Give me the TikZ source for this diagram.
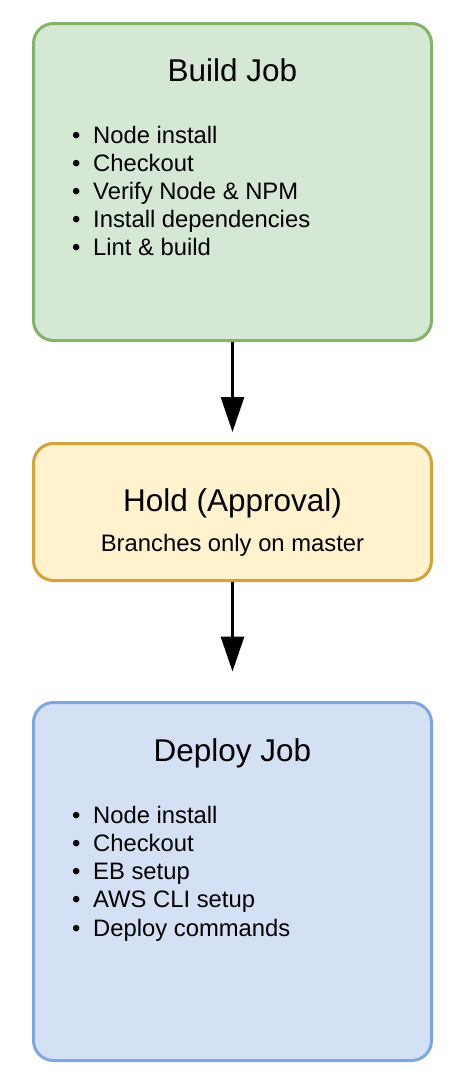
\documentclass[tikz,border=0pt]{standalone}
\usepackage{fontspec}
\setmainfont{Liberation Sans}
\usetikzlibrary{arrows.meta}
\definecolor{gfill}{HTML}{D5E8D4}
\definecolor{gline}{HTML}{82B366}
\definecolor{yfill}{HTML}{FFF2CC}
\definecolor{yline}{HTML}{D6A03A}
\definecolor{bfill}{HTML}{D4E1F5}
\definecolor{bline}{HTML}{7EA6E0}
\tikzset{
  jobbox/.style={rectangle, rounded corners=20pt, line width=3pt, minimum width=398pt, inner sep=0pt},
  titletext/.style={anchor=base, inner sep=0pt, font=\fontsize{31.5}{36}\selectfont},
  subtext/.style={anchor=base, inner sep=0pt, font=\fontsize{23.8}{28}\selectfont},
  itemtext/.style={anchor=base west, inner sep=0pt, font=\fontsize{23.8}{28}\selectfont},
  flow/.style={line width=3pt, -{Triangle[width=23pt,length=35pt]}}
}
\begin{document}
\begin{tikzpicture}[x=1pt,y=-1pt]
\useasboundingbox (0,0) rectangle (456,1082);
\node[jobbox, draw=gline, fill=gfill, minimum height=317pt] (build) at (232.5,182) {};
\node[jobbox, draw=yline, fill=yfill, minimum height=137pt] (hold) at (232.5,512) {};
\node[jobbox, draw=bline, fill=bfill, minimum height=358pt] (deploy) at (232.5,881.5) {};
\node[titletext] (buildt) at (232.5,81.7) {Build Job};
\foreach \t [count=\i] in {Node install, Checkout, Verify Node \& NPM, Install dependencies, Lint \& build}
  \node[itemtext] (bi\i) at (72,{143.3+28.1*(\i-1)}) {\makebox[21pt][l]{\textbullet}\t};
\node[titletext] (holdt) at (232.5,511.7) {Hold (Approval)};
\node[subtext] (holds) at (232.5,551.7) {Branches only on master};
\node[titletext] (deployt) at (232.5,761.7) {Deploy Job};
\foreach \t [count=\i] in {Node install, Checkout, EB setup, AWS CLI setup, Deploy commands}
  \node[itemtext] (di\i) at (72,{823.3+28.2*(\i-1)}) {\makebox[21pt][l]{\textbullet}\t};
\draw[flow, shorten >=10pt] (build.south) -- (hold.north);
\draw[flow, shorten >=29.5pt] (hold.south) -- (deploy.north);
\end{tikzpicture}
\end{document}
